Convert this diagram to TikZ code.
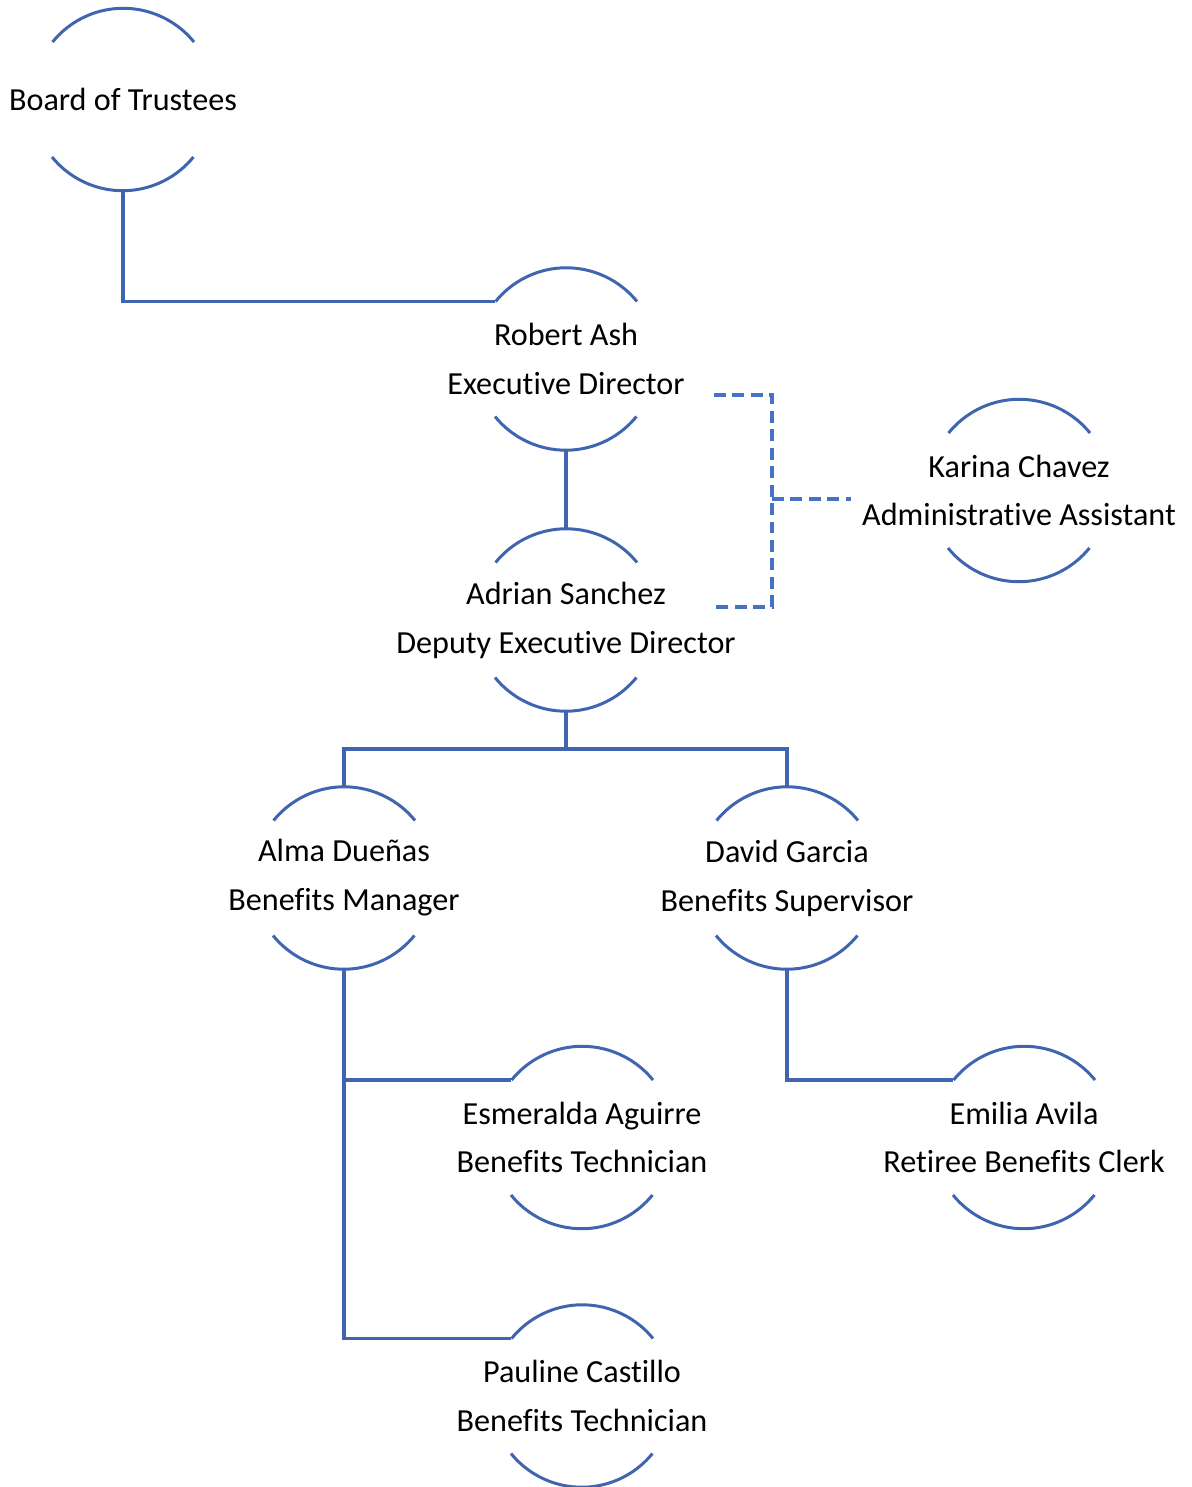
\documentclass[tikz,border=0pt]{standalone}
\usepackage{fontspec}
\setmainfont{Carlito}[Ligatures=NoCommon]
\usepackage{tikz}
\definecolor{linkblue}{RGB}{63,100,176}
\definecolor{dashblue}{RGB}{68,114,196}

\begin{document}
\begin{tikzpicture}[
        member/.style={circle,minimum size=3.64cm,inner sep=0pt,
            label={[align=center,font=\fontsize{18.3}{27.8}\selectfont]center:#1}},
        link/.style={linkblue,line width=2.2pt},
        rim/.style={linkblue,line width=1.7pt},
        assist/.style={dashblue,line width=1.8pt,dash pattern=on 6.8pt off 3.7pt}]
        \useasboundingbox (0,0) rectangle (23.82,-29.74);
        \node[member={Board of Trustees}] (board) at (2.46,-1.99) {};
        \node[member={Robert Ash\\Executive Director}] (ash) at (11.32,-7.18) {};
        \node[member={Adrian Sanchez\\Deputy Executive Director}] (sanchez) at (11.32,-12.40) {};
        \node[member={Karina Chavez\\Administrative Assistant}] (chavez) at (20.38,-9.81) {};
        \node[member={Alma Dueñas\\Benefits Manager}] (duenas) at (6.88,-17.56) {};
        \node[member={David Garcia\\Benefits Supervisor}] (garcia) at (15.74,-17.56) {};
        \node[member={Esmeralda Aguirre\\Benefits Technician}] (aguirre) at (11.64,-22.75) {};
        \node[member={Emilia Avila\\Retiree Benefits Clerk}] (avila) at (20.48,-22.75) {};
        \node[member={Pauline Castillo\\Benefits Technician}] (castillo) at (11.64,-27.92) {};
        % arcs above and below each name
        \foreach \n in {board,ash,sanchez,chavez,duenas,garcia,aguirre,avila,castillo} {
            \draw[rim] (\n.39) arc[start angle=39,end angle=141,radius=1.82];
            \draw[rim] (\n.219) arc[start angle=219,end angle=321,radius=1.82];
        }
        % reporting lines
        \draw[link] (board.south) |- (ash.141);
        \draw[link] (ash.south) -- (sanchez.north);
        \draw[link] (sanchez.south) -- ++(0,-0.75) -| (duenas.north);
        \draw[link] (sanchez.south) -- ++(0,-0.75) -| (garcia.north);
        \draw[link] (duenas.south) |- (castillo.141);
        \draw[link] (duenas.south |- aguirre.141) -- (aguirre.141);
        \draw[link] (garcia.south) |- (avila.141);
        % assistant
        \coordinate (ashend) at (14.28,-7.90);
        \coordinate (sanend) at (14.28,-12.14);
        \coordinate (brk) at (15.44,-9.98);
        \coordinate (chavend) at (17.02,-9.98);
        \draw[assist] (ashend) -| (brk) |- (sanend);
        \draw[assist] (brk) -- (chavend);
    \end{tikzpicture}
\end{document}
